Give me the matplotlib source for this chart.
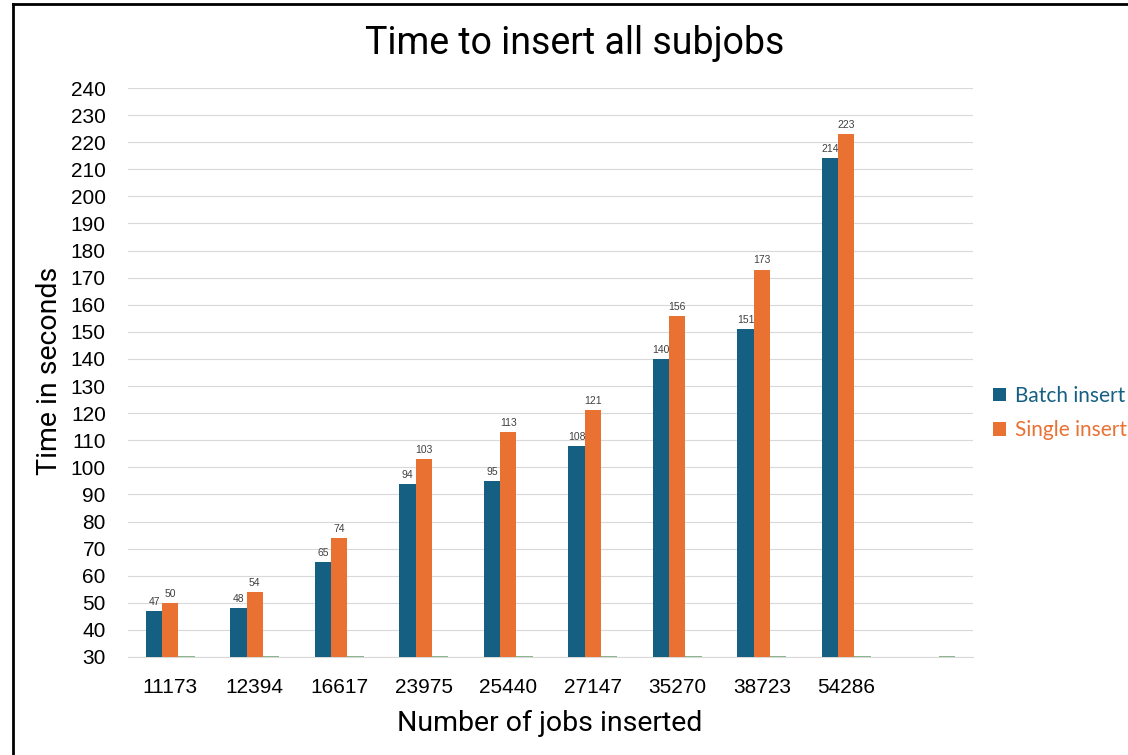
import matplotlib
matplotlib.use("Agg")
import matplotlib.pyplot as plt
from matplotlib.lines import Line2D
from matplotlib.patches import Patch
import numpy as np

categories = ["11173", "12394", "16617", "23975", "25440", "27147", "35270", "38723", "54286", ""]
batch = [47, 48, 65, 94, 95, 108, 140, 151, 214, None]
single = [50, 54, 74, 103, 113, 121, 156, 173, 223, None]
third = [0, 0, 0, 0, 0, 0, 0, 0, 0, 0]
yticks = list(range(30, 250, 10))

C_BATCH = "#156082"
C_SINGLE = "#E97132"
C_THIRD = "#7fae84"

fig = plt.figure(figsize=(11.28, 7.55), dpi=100)
ax = fig.add_axes([128/1128, 1-657/755, (973-128)/1128, (657-88)/755])

x = np.arange(len(categories))
w = 0.192
ymin = 30

for i in range(len(categories)):
    if batch[i] is not None:
        ax.bar(x[i]-w, batch[i]-ymin, bottom=ymin, width=w, color=C_BATCH, zorder=3)
        ax.text(x[i]-w, batch[i]+1.5, str(batch[i]), ha="center", va="bottom",
                fontsize=7.5, color="#404040", family="Liberation Sans", zorder=4)
    if single[i] is not None:
        ax.bar(x[i], single[i]-ymin, bottom=ymin, width=w, color=C_SINGLE, zorder=3)
        ax.text(x[i], single[i]+1.5, str(single[i]), ha="center", va="bottom",
                fontsize=7.5, color="#404040", family="Liberation Sans", zorder=4)
    val = max(third[i], ymin)
    ax.hlines(val, x[i]+w/2, x[i]+1.5*w, color=C_THIRD, lw=1.3, zorder=4)

ax.set_xlim(-0.5, len(categories)-0.5)
ax.set_ylim(ymin, 240)
ax.set_yticks(yticks)
ax.set_xticks(x)
ax.set_xticklabels(categories)
for lab in ax.get_xticklabels() + ax.get_yticklabels():
    lab.set_family("Liberation Sans")
    lab.set_fontsize(15)
    lab.set_color("#000000")
ax.tick_params(axis="both", length=0)
ax.tick_params(axis="x", pad=15)
ax.tick_params(axis="y", pad=16)
ax.grid(axis="y", color="#d9d9d9", lw=0.8, zorder=0)
ax.set_axisbelow(True)
for s in ["top", "right", "left"]:
    ax.spines[s].set_visible(False)
ax.spines["bottom"].set_color("#d9d9d9")
ax.spines["bottom"].set_linewidth(0.8)

fig.text(575/1128, 1-43/755, "Time to insert all subjobs", ha="center", va="center",
         fontsize=27, family="Roboto", color="#000000")
fig.text(550/1128, 1-723/755, "Number of jobs inserted", ha="center", va="center",
         fontsize=20.5, family="Roboto", color="#000000")
fig.text(50/1128, 1-371/755, "Time in seconds", ha="center", va="center", rotation=90,
         fontsize=20.5, family="Roboto", color="#000000")

handles = [Patch(facecolor=C_BATCH, label="Batch insert"),
           Patch(facecolor=C_SINGLE, label="Single insert")]
leg = fig.legend(handles=handles, loc="center left", bbox_to_anchor=(993/1128, 1-413/755),
                 frameon=False, handlelength=0.62, handleheight=0.62, borderpad=0.0,
                 borderaxespad=0.0, handletextpad=0.45, labelspacing=0.68,
                 prop={"family": "Lato", "size": 15})
leg.get_texts()[0].set_color(C_BATCH)
leg.get_texts()[1].set_color(C_SINGLE)

# outer frame (left and top edges visible)
fig.add_artist(Line2D([13/1128, 13/1128], [0, 1-4/755], transform=fig.transFigure, color="black", lw=2))
fig.add_artist(Line2D([13/1128, 1], [1-4/755, 1-4/755], transform=fig.transFigure, color="black", lw=2))

fig.savefig("out.png", dpi=100)
